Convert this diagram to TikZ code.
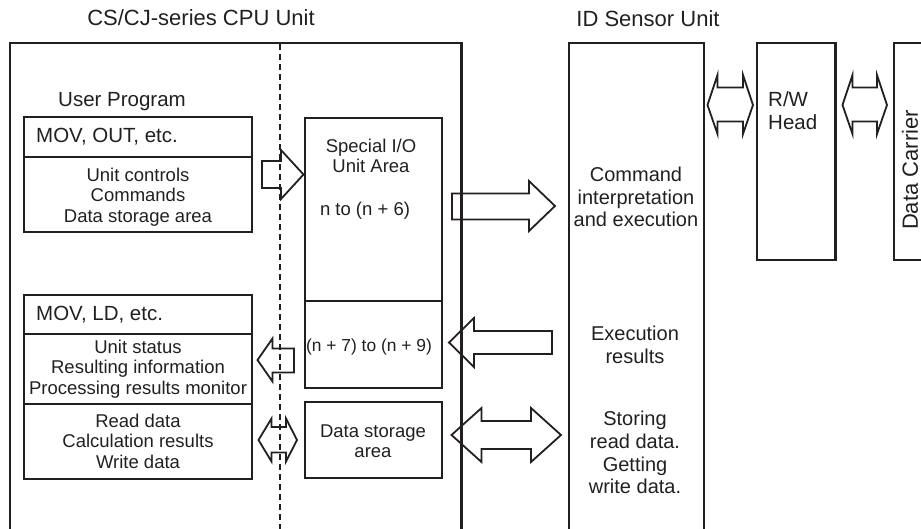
\documentclass[tikz,border=0pt]{standalone}
\usepackage{fontspec}
\setmainfont{Liberation Sans}
\definecolor{ink}{HTML}{231F20}
\begin{document}
\begin{tikzpicture}[x=1pt,y=-1pt,
  outer/.style={draw=ink, line width=2.8pt},
  box/.style={draw=ink, line width=2.3pt},
  blk/.style={draw=ink, line width=1.8pt, line join=miter},
  dashline/.style={draw=ink, line width=2pt, dash pattern=on 6pt off 4pt},
  ttl/.style={text=ink, inner sep=0pt, font=\fontsize{22}{26}\selectfont},
  hdr/.style={text=ink, inner sep=0pt, anchor=west, font=\fontsize{20.5}{24}\selectfont},
  bodytxt/.style={text=ink, inner sep=0pt, align=center, font=\fontsize{18.5}{20.5}\selectfont},
  idtxt/.style={text=ink, inner sep=0pt, align=center, font=\fontsize{20}{22.8}\selectfont}]
\useasboundingbox (0,0) rectangle (921,528);
\clip (0,0) rectangle (921,528);

% titles
\node[ttl] (cputitle) at (201,18) {CS/CJ-series CPU Unit};
\node[ttl] (idtitle) at (648,19) {ID Sensor Unit};

% CPU unit frame and divider
\draw[outer] (10,535) -- (10,43) -- (461.5,43) -- (461.5,535);
\draw[dashline] (279.5,44) -- (279.5,535);

% user program
\node[hdr] (userprog) at (58,102) {User Program};
\draw[box] (24,117) rectangle (252,232);
\draw[box] (24,157) -- (252,157);
\node[hdr] (movout) at (36,137) {MOV, OUT, etc.};
\node[bodytxt] (ucontrols) at (138,197) {Unit controls\\Commands\\Data storage area};

\draw[box] (24,295) rectangle (252,479);
\draw[box] (24,334) -- (252,334);
\draw[box] (24,404) -- (252,404);
\node[hdr] (movld) at (36,315) {MOV, LD, etc.};
\node[bodytxt] (ustatus) at (138,369) {Unit status\\Resulting information\\Processing results monitor};
\node[bodytxt] (rdata) at (138,441) {Read data\\Calculation results\\Write data};

% special I/O unit area
\draw[box] (305,118) rectangle (442,388);
\draw[box] (305,301) -- (442,301);
\node[bodytxt] (sio) at (371,156) {Special I/O\\Unit Area};
\node[bodytxt] (n6) at (365,211) {n to (n + 6)};
\node[bodytxt, font=\fontsize{17.4}{20}\selectfont] (n79) at (369,347) {(n + 7) to (n + 9)};
\draw[box] (305,402) rectangle (442,478);
\node[bodytxt] (dsa) at (373,441) {Data storage\\area};

% ID sensor unit
\draw[box] (569,535) -- (569,43) -- (704,43) -- (704,535);
\node[idtxt] (cmd) at (636,197) {Command\\interpretation\\and execution};
\node[idtxt] (exres) at (635,344.5) {Execution\\results};
\node[idtxt] (store) at (635,452.5) {Storing\\read data.\\Getting\\write data.};

% R/W head and data carrier
\draw[box] (757,43) rectangle (835.5,260);
\node[hdr, align=left, font=\fontsize{20.5}{23}\selectfont] (rw) at (768,110.5) {R/W\\Head};
\draw[box] (940,43) -- (894,43) -- (894,260) -- (940,260);
\node[ttl, rotate=90] (dc) at (910,170) {Data Carrier};

% block arrows
% user program -> special I/O
\draw[blk] (262,161) -- (281,161) -- (281,150) -- (303.5,174.5) -- (281,199) -- (281,188) -- (262,188) -- cycle;
% special I/O -> user
\draw[blk] (294,348.5) -- (272.5,348.5) -- (272.5,338.5) -- (257.5,360) -- (272.5,381.5) -- (272.5,372.5) -- (294,372.5) -- cycle;
% small double arrow
\draw[blk] (258.5,440) -- (271.5,418.5) -- (271.5,427) -- (286,427) -- (286,418.5) -- (297,440) -- (286,461.5) -- (286,452.5) -- (271.5,452.5) -- (271.5,461.5) -- cycle;
% CPU -> ID big arrow
\draw[blk] (452,193.5) -- (529,193.5) -- (529,181) -- (555,206) -- (529,231) -- (529,219.5) -- (452,219.5) -- cycle;
% ID -> CPU
\draw[blk] (552,331) -- (474,331) -- (474,318) -- (449,342.5) -- (474,367) -- (474,354) -- (552,354) -- cycle;
% big double arrow
\draw[blk] (451.5,435) -- (481.5,408) -- (481.5,421) -- (531,421) -- (531,408) -- (561,435) -- (531,462) -- (531,449) -- (481.5,449) -- (481.5,462) -- cycle;
% ID <-> R/W head
\draw[blk] (707.5,105) -- (717.5,75) -- (717.5,87.5) -- (743,87.5) -- (743,75) -- (753,105) -- (743,134) -- (743,121.5) -- (717.5,121.5) -- (717.5,134) -- cycle;
% R/W head <-> data carrier
\draw[blk] (842.5,105) -- (852.5,75) -- (852.5,87.5) -- (877,87.5) -- (877,75) -- (887,105) -- (877,134) -- (877,121.5) -- (852.5,121.5) -- (852.5,134) -- cycle;
\end{tikzpicture}
\end{document}
